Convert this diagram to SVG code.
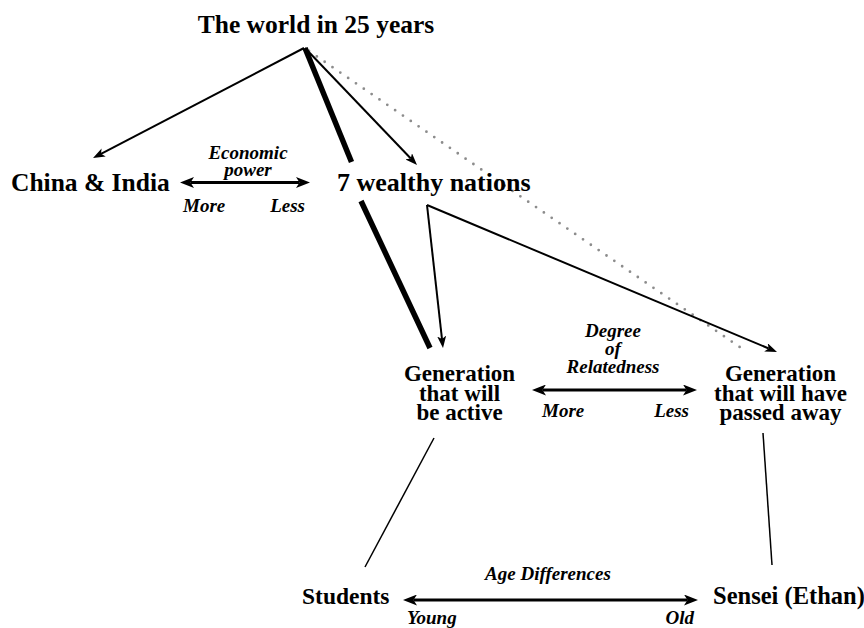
<svg xmlns="http://www.w3.org/2000/svg" width="864" height="628" viewBox="0 0 864 628">
<style>
.node{font-family:'Liberation Serif','DejaVu Serif',serif;font-weight:bold;fill:#000}
.lbl{font-family:'Liberation Serif','DejaVu Serif',serif;font-weight:bold;font-style:italic;font-size:19px;fill:#000}
.thin{stroke:#000;stroke-width:2;fill:none}
.dbl{stroke:#000;stroke-width:3;fill:none}
.thick{stroke:#000;stroke-width:5.5;fill:none}
.plain{stroke:#000;stroke-width:1.5;fill:none}
.dot{stroke:#8c8c8c;stroke-width:2.8;stroke-dasharray:0 9.5;stroke-linecap:round;fill:none}
</style>
<defs>
<marker id="sm" markerUnits="userSpaceOnUse" markerWidth="12" markerHeight="9" refX="3" refY="4.5" orient="auto-start-reverse" viewBox="0 0 12 9">
<path d="M0,0 L12,4.5 L0,9 L3,4.5 Z" fill="#000"/>
</marker>
<marker id="bg" markerUnits="userSpaceOnUse" markerWidth="14" markerHeight="11" refX="3.5" refY="5.5" orient="auto-start-reverse" viewBox="0 0 14 11">
<path d="M0,0 L14,5.5 L0,11 L3.5,5.5 Z" fill="#000"/>
</marker>
</defs>
<rect width="864" height="628" fill="#fff"/>
<g id="connectors">
<line class="dot" x1="309" y1="51" x2="744" y2="350"/>
<line class="thin" x1="304" y1="48" x2="101" y2="153.8" marker-end="url(#sm)"/>
<line class="thin" x1="305" y1="48" x2="410.8" y2="158.5" marker-end="url(#sm)"/>
<line class="thick" x1="305" y1="48" x2="351.5" y2="162"/>
<line class="thick" x1="361" y1="201" x2="430" y2="348"/>
<line class="thin" x1="427" y1="205" x2="442" y2="339.1" marker-end="url(#sm)"/>
<line class="thin" x1="427" y1="205" x2="768.7" y2="348.5" marker-end="url(#sm)"/>
<line class="plain" x1="434" y1="438" x2="365" y2="567"/>
<line class="plain" x1="763" y1="433" x2="772" y2="565"/>
<line class="dbl" x1="190.5" y1="182.5" x2="299.5" y2="182.5" marker-start="url(#bg)" marker-end="url(#bg)"/>
<line class="dbl" x1="542.5" y1="390" x2="686.5" y2="390" marker-start="url(#bg)" marker-end="url(#bg)"/>
<line class="dbl" x1="413.5" y1="600" x2="687.5" y2="600" marker-start="url(#bg)" marker-end="url(#bg)"/>
</g>
<g id="title"><text class="node" x="316" y="33" font-size="25.5" text-anchor="middle">The world in 25 years</text></g>
<g id="china-india"><text class="node" x="11" y="191" font-size="25.5">China &amp; India</text></g>
<g id="wealthy"><text class="node" x="337" y="191" font-size="26">7 wealthy nations</text></g>
<g id="gen-active">
<text class="node" font-size="23" text-anchor="middle"><tspan x="459.5" y="381">Generation</tspan><tspan x="459.5" y="400.5">that will</tspan><tspan x="459.5" y="420">be active</tspan></text>
</g>
<g id="gen-passed">
<text class="node" font-size="23" text-anchor="middle"><tspan x="780.5" y="381">Generation</tspan><tspan x="780.5" y="400.5">that will have</tspan><tspan x="780.5" y="420">passed away</tspan></text>
</g>
<g id="students"><text class="node" x="302" y="604" font-size="23.5">Students</text></g>
<g id="sensei"><text class="node" x="713" y="604" font-size="24.5">Sensei (Ethan)</text></g>
<g id="labels">
<text class="lbl" text-anchor="middle"><tspan x="248" y="159">Economic</tspan><tspan x="248" y="176">power</tspan></text>
<text class="lbl" x="183" y="212">More</text>
<text class="lbl" x="305" y="212" text-anchor="end">Less</text>
<text class="lbl" text-anchor="middle"><tspan x="613" y="337">Degree</tspan><tspan x="613" y="355">of</tspan><tspan x="613" y="373">Relatedness</tspan></text>
<text class="lbl" x="542" y="417">More</text>
<text class="lbl" x="689" y="417" text-anchor="end">Less</text>
<text class="lbl" x="548" y="580" text-anchor="middle">Age Differences</text>
<text class="lbl" x="407" y="624">Young</text>
<text class="lbl" x="694" y="624" text-anchor="end">Old</text>
</g>
</svg>
